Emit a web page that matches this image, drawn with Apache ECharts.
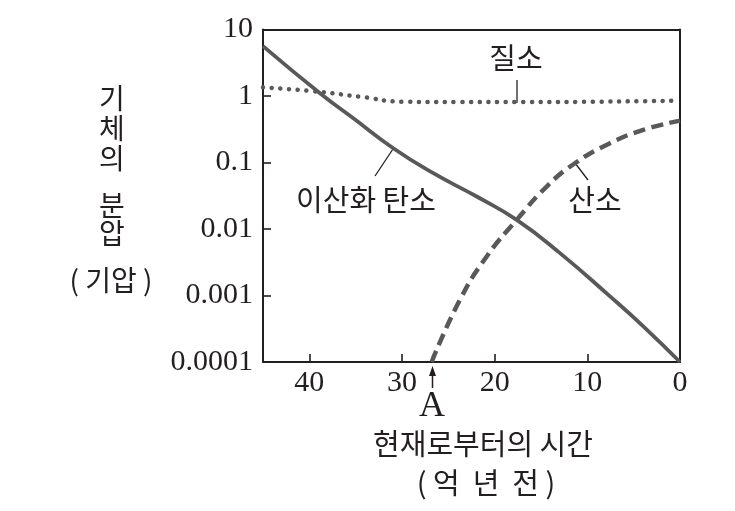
<!DOCTYPE html>
<html>
<head>
<meta charset="utf-8">
<script src="https://cdn.jsdelivr.net/npm/echarts@6/dist/echarts.min.js"></script>
<style>html,body{margin:0;padding:0;background:#fff}#c{width:735px;height:511px}</style>
</head>
<body>
<div id="c"></div>
<script>
// Data (time in 억 년 전, partial pressure in 기압)
const yTickLabels = ['0.0001', '0.001', '0.01', '0.1', '1', '10'];
const xTickLabels = ['0', '10', '20', '30', '40'];

const n2Years  = [45, 39.9, 34.5, 29.9, 23.7, 17.6, 9.4, 0.5];
const n2Values = [1.35, 1.19, 0.976, 0.82, 0.81, 0.81, 0.82, 0.85];

const co2Years  = [45, 38.85, 35.25, 30.94, 26.62, 21.94, 17.62, 12.95, 7.55, 3.96, 0];
const co2Values = [5.63, 1.10, 0.462, 0.164, 0.069, 0.0308, 0.0137, 0.00434, 0.00097, 0.000344, 0.0001];

const o2Years  = [26.8, 23.74, 20.86, 17.62, 14.39, 11.33, 7.55, 3.96, 0];
const o2Values = [0.0001, 0.000865, 0.00386, 0.0137, 0.0435, 0.0975, 0.195, 0.309, 0.426];

const zip = (xs, ys) => xs.map((x, i) => [x, ys[i]]);

const ink = '#231f20';
const curve = '#595959';
const serif = '"Liberation Serif", "DejaVu Serif", serif';
const kr = '"Noto Sans CJK KR", "Noto Sans", sans-serif';

const chart = echarts.init(document.getElementById('c'), null, {renderer: 'canvas'});

function txt(x, y, s, size, font) {
  return {type: 'text', x: x, y: y, style: {text: s, fill: ink, font: 'normal ' + size + 'px ' + (font || kr), textAlign: 'center', textVerticalAlign: 'middle'}};
}
function seg(x1, y1, x2, y2, w) {
  return {type: 'line', shape: {x1: x1, y1: y1, x2: x2, y2: y2}, style: {stroke: ink, lineWidth: w || 1.3}};
}

chart.setOption({
  animation: false,
  backgroundColor: '#fff',
  grid: {left: 263, right: 55, top: 29.5, bottom: 149, show: false},
  xAxis: [{
    type: 'value', inverse: true, min: 0, max: 45, interval: 10, position: 'bottom',
    axisLine: {show: true, onZero: false, lineStyle: {color: ink, width: 2}},
    axisTick: {show: true, inside: true, length: 8, lineStyle: {color: ink, width: 1.6}},
    splitLine: {show: false},
    axisLabel: {color: ink, fontFamily: serif, fontSize: 30, margin: 6,
      formatter: v => xTickLabels[Math.round(v / 10)] ?? ''}
  }, {
    type: 'value', inverse: true, min: 0, max: 45, position: 'top',
    axisLine: {show: true, onZero: false, lineStyle: {color: ink, width: 2}},
    axisTick: {show: false}, axisLabel: {show: false}, splitLine: {show: false}
  }],
  yAxis: [{
    type: 'log', logBase: 10, min: 0.0001, max: 10, position: 'left',
    axisLine: {show: true, onZero: false, lineStyle: {color: ink, width: 2}},
    axisTick: {show: true, inside: true, length: 8, lineStyle: {color: ink, width: 1.6}},
    minorTick: {show: false},
    splitLine: {show: false},
    axisLabel: {color: ink, fontFamily: serif, fontSize: 30, margin: 10,
      formatter: v => yTickLabels[Math.round(Math.log10(v)) + 4] ?? ''}
  }, {
    type: 'log', logBase: 10, min: 0.0001, max: 10, position: 'right',
    axisLine: {show: true, onZero: false, lineStyle: {color: ink, width: 2}},
    axisTick: {show: false}, axisLabel: {show: false}, splitLine: {show: false}
  }],
  series: [
    {name: '질소', type: 'line', data: zip(n2Years, n2Values), smooth: 0.5, symbol: 'none',
     lineStyle: {color: curve, width: 4.5, type: [0.1, 8.6], cap: 'round'}},
    {name: '산소', type: 'line', data: zip(o2Years, o2Values), smooth: 0.5, symbol: 'none',
     lineStyle: {color: curve, width: 4.5, type: [12, 6.5], cap: 'butt'}},
    {name: '이산화 탄소', type: 'line', data: zip(co2Years, co2Values), smooth: 0.5, symbol: 'none',
     lineStyle: {color: curve, width: 3.8}}
  ],
  graphic: [
    // y-axis title (vertical)
    txt(112, 98, '기', 28), txt(112, 128, '체', 28), txt(112, 158, '의', 28),
    txt(112, 205, '분', 28), txt(112, 233, '압', 28), txt(111, 280, '( 기압 )', 28),
    // in-plot labels with leaders
    txt(516, 58, '질소', 29), seg(517, 80, 517, 103),
    txt(366, 200, '이산화 탄소', 29), seg(375, 176, 393, 149),
    txt(595, 200, '산소', 29), seg(588, 180, 575, 163),
    // arrow to A
    seg(432.5, 388, 432.5, 372, 1.5),
    {type: 'polygon', shape: {points: [[432.5, 366], [429, 376], [436, 376]]}, style: {fill: ink}},
    txt(432, 407, 'A', 36, serif),
    // x-axis title
    txt(483, 444, '현재로부터의 시간', 29),
    txt(486, 483, '( 억  년  전 )', 29)
  ]
});
</script>
</body>
</html>
